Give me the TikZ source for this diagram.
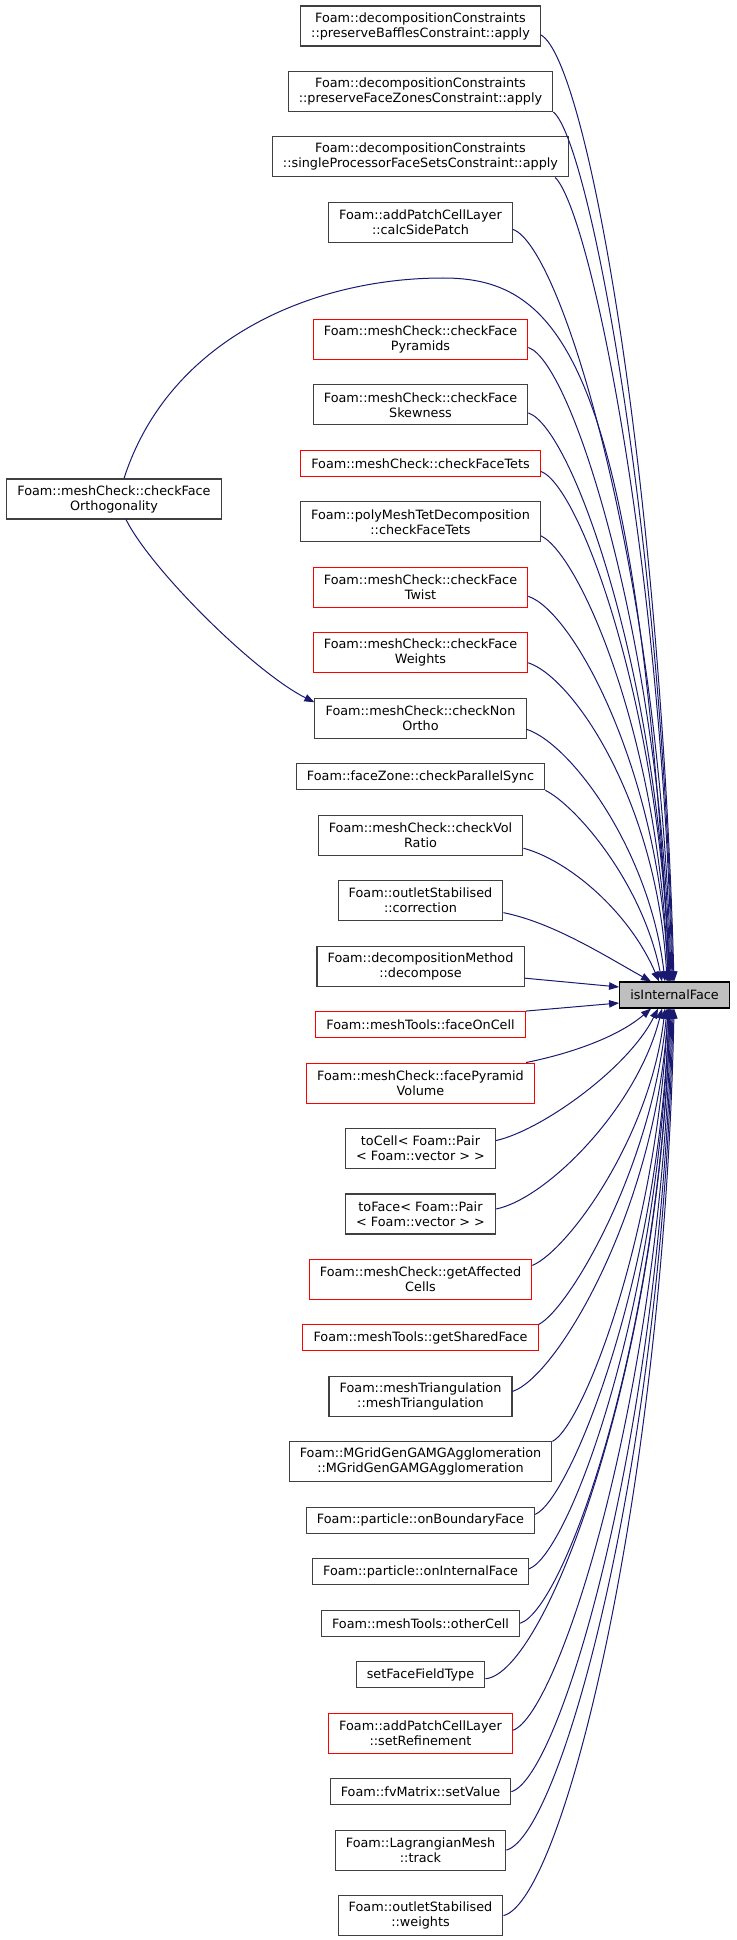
\documentclass[tikz,border=0pt]{standalone}
\usepackage{fontspec}
\setmainfont{DejaVu Sans}
\usepackage{xcolor}
\usepackage{tikz}
\usetikzlibrary{positioning,calc,arrows.meta}
\definecolor{callblue}{HTML}{191970}
\definecolor{frame}{HTML}{404040}
\definecolor{hilite}{HTML}{BFBFBF}
\tikzset{
  fn/.style={draw=frame,line width=0.8pt,align=center,inner xsep=8pt,inner ysep=1pt,
    minimum height=19.5pt,font=\fontsize{9.6}{11.25}\selectfont},
  twoline/.style={minimum height=30pt},
  trunc/.style={draw=red},
  call/.style={->,callblue,line width=0.75pt}
}
\begin{document}
\begin{tikzpicture}[x=0.75pt,y=-0.75pt,node distance=18.3pt,>={Triangle[length=7.5pt,width=5.6pt]}]
\useasboundingbox (0,0) rectangle (736,1940);
%%First place the nodes
\node[fn,twoline] (bafflesapply) at (420.5,26) {Foam::decompositionConstraints\\::preserveBafflesConstraint::apply};
\node[fn,twoline,below=of bafflesapply] (zonesapply) {Foam::decompositionConstraints\\::preserveFaceZonesConstraint::apply};
\node[fn,twoline,below=of zonesapply] (singleapply) {Foam::decompositionConstraints\\::singleProcessorFaceSetsConstraint::apply};
\node[fn,twoline,below=of singleapply] (sidepatch) {Foam::addPatchCellLayer\\::calcSidePatch};
\node[fn,twoline,trunc,below=57pt of sidepatch] (pyramids) {Foam::meshCheck::checkFace\\Pyramids};
\node[fn,twoline,below=of pyramids] (skewness) {Foam::meshCheck::checkFace\\Skewness};
\node[fn,trunc,below=of skewness] (facetets) {Foam::meshCheck::checkFaceTets};
\node[fn,twoline,below=of facetets] (polytets) {Foam::polyMeshTetDecomposition\\::checkFaceTets};
\node[fn,twoline,trunc,below=of polytets] (twist) {Foam::meshCheck::checkFace\\Twist};
\node[fn,twoline,trunc,below=of twist] (faceweights) {Foam::meshCheck::checkFace\\Weights};
\node[fn,twoline,below=of faceweights] (nonortho) {Foam::meshCheck::checkNon\\Ortho};
\node[fn,below=of nonortho] (parallelsync) {Foam::faceZone::checkParallelSync};
\node[fn,twoline,below=of parallelsync] (volratio) {Foam::meshCheck::checkVol\\Ratio};
\node[fn,twoline,below=of volratio] (correction) {Foam::outletStabilised\\::correction};
\node[fn,twoline,below=of correction] (decompose) {Foam::decompositionMethod\\::decompose};
\node[fn,trunc,below=of decompose] (faceoncell) {Foam::meshTools::faceOnCell};
\node[fn,twoline,trunc,below=of faceoncell] (pyramidvolume) {Foam::meshCheck::facePyramid\\Volume};
\node[fn,twoline,below=of pyramidvolume] (tocell) {toCell< Foam::Pair\\< Foam::vector > >};
\node[fn,twoline,below=of tocell] (toface) {toFace< Foam::Pair\\< Foam::vector > >};
\node[fn,twoline,trunc,below=of toface] (affectedcells) {Foam::meshCheck::getAffected\\Cells};
\node[fn,trunc,below=of affectedcells] (sharedface) {Foam::meshTools::getSharedFace};
\node[fn,twoline,below=of sharedface] (meshtri) {Foam::meshTriangulation\\::meshTriangulation};
\node[fn,twoline,below=of meshtri] (mgridgen) {Foam::MGridGenGAMGAgglomeration\\::MGridGenGAMGAgglomeration};
\node[fn,below=of mgridgen] (onboundary) {Foam::particle::onBoundaryFace};
\node[fn,below=of onboundary] (oninternal) {Foam::particle::onInternalFace};
\node[fn,below=of oninternal] (othercell) {Foam::meshTools::otherCell};
\node[fn,below=of othercell] (setfft) {setFaceFieldType};
\node[fn,twoline,trunc,below=of setfft] (setrefinement) {Foam::addPatchCellLayer\\::setRefinement};
\node[fn,below=of setrefinement] (setvalue) {Foam::fvMatrix::setValue};
\node[fn,twoline,below=of setvalue] (track) {Foam::LagrangianMesh\\::track};
\node[fn,twoline,below=of track] (olweights) {Foam::outletStabilised\\::weights};
\node[fn,twoline] (orthogonality) at (114,499) {Foam::meshCheck::checkFace\\Orthogonality};
\node[fn,fill=hilite,draw=black] (isinternal) at (674.5,995) {isInternalFace};
\coordinate (orthotop) at (443,278);
%%Draw the calls coming in from above
\draw[call] ($(bafflesapply.east)+(0,9)$) .. controls +(45,25) and +(-15,-520) .. ($(isinternal.north west)+(55,0)$);
\draw[call] (zonesapply.south east) .. controls +(35,28) and +(-12,-460) .. ($(isinternal.north west)+(54,0)$);
\draw[call] ($(singleapply.south east)+(-14,0)$) .. controls +(35,35) and +(-10,-420) .. ($(isinternal.north west)+(53,0)$);
\draw[call] ($(sidepatch.east)+(0,7)$) .. controls +(50,18) and +(-10,-400) .. ($(isinternal.north west)+(52,0)$);
\draw[call] ($(orthogonality.north)+(10,0)$) .. controls +(45,-140) and +(-130,0) .. (orthotop)
  .. controls +(117,0) and +(-34,-622) .. ($(isinternal.north west)+(51,0)$);
\draw[call] ($(pyramids.east)+(0,8)$) .. controls +(45,15) and +(-8,-330) .. ($(isinternal.north west)+(51,0)$);
\draw[call] ($(skewness.east)+(0,8)$) .. controls +(45,15) and +(-8,-300) .. ($(isinternal.north west)+(50,0)$);
\draw[call] ($(facetets.east)+(0,8)$) .. controls +(40,15) and +(-8,-270) .. ($(isinternal.north west)+(50,0)$);
\draw[call] ($(polytets.east)+(0,14)$) .. controls +(40,20) and +(-8,-240) .. ($(isinternal.north west)+(49,0)$);
\draw[call] ($(twist.east)+(0,9)$) .. controls +(45,15) and +(-8,-210) .. ($(isinternal.north west)+(49,0)$);
\draw[call] ($(faceweights.east)+(0,10)$) .. controls +(45,15) and +(-10,-180) .. ($(isinternal.north west)+(48,0)$);
\draw[call] ($(nonortho.east)+(0,11)$) .. controls +(45,15) and +(-15,-130) .. ($(isinternal.north west)+(46,0)$);
\draw[call] (parallelsync.south east) .. controls +(30,15) and +(-20,-100) .. ($(isinternal.north west)+(43,0)$);
\draw[call] ($(volratio.east)+(0,13)$) .. controls +(45,12) and +(-30,-70) .. ($(isinternal.north west)+(40,0)$);
\draw[call] ($(correction.east)+(0,12)$) .. controls +(50,10) and +(-45,-25) .. ($(isinternal.north west)+(32,0)$);
%%Draw the calls coming in from the left
\draw[call] ($(decompose.east)+(0,12)$) -- ($(isinternal.west)+(0,-8)$);
\draw[call] (faceoncell.north east) -- ($(isinternal.west)+(0,8)$);
%%Draw the calls coming in from below
\draw[call] ($(pyramidvolume.north east)+(-9,0)$) .. controls +(40,-8) and +(-35,30) .. ($(isinternal.south west)+(32,0)$);
\draw[call] ($(tocell.east)+(0,-8)$) .. controls +(45,-10) and +(-30,60) .. ($(isinternal.south west)+(39,0)$);
\draw[call] ($(toface.east)+(0,-5)$) .. controls +(50,-10) and +(-25,100) .. ($(isinternal.south west)+(43,0)$);
\draw[call] ($(affectedcells.east)+(0,-14)$) .. controls +(35,-15) and +(-15,130) .. ($(isinternal.south west)+(46,0)$);
\draw[call] (sharedface.north east) .. controls +(30,-15) and +(-15,160) .. ($(isinternal.south west)+(48,0)$);
\draw[call] ($(meshtri.east)+(0,-5)$) .. controls +(45,-15) and +(-12,200) .. ($(isinternal.south west)+(49,0)$);
\draw[call] (mgridgen.north east) .. controls +(30,-15) and +(-12,230) .. ($(isinternal.south west)+(49,0)$);
\draw[call] ($(onboundary.east)+(0,-6)$) .. controls +(35,-15) and +(-10,270) .. ($(isinternal.south west)+(50,0)$);
\draw[call] ($(oninternal.east)+(0,-3)$) .. controls +(40,-15) and +(-10,300) .. ($(isinternal.south west)+(50,0)$);
\draw[call] (othercell.east) .. controls +(45,-15) and +(-10,330) .. ($(isinternal.south west)+(51,0)$);
\draw[call] ($(setfft.east)+(0,4)$) .. controls +(60,-5) and +(-10,360) .. ($(isinternal.south west)+(51,0)$);
\draw[call] ($(setrefinement.east)+(0,-3)$) .. controls +(45,-15) and +(-10,390) .. ($(isinternal.south west)+(52,0)$);
\draw[call] (setvalue.east) .. controls +(50,-15) and +(-10,420) .. ($(isinternal.south west)+(53,0)$);
\draw[call] (track.east) .. controls +(55,-15) and +(-10,450) .. ($(isinternal.south west)+(54,0)$);
\draw[call] (olweights.east) .. controls +(60,-15) and +(-10,480) .. ($(isinternal.south west)+(55,0)$);
%%Draw the call between the two meshCheck functions
\draw[call] ($(orthogonality.south)+(12,0)$) .. controls +(25,50) and +(-60,-30) .. ($(nonortho.west)+(0,-16)$);
\end{tikzpicture}
\end{document}
